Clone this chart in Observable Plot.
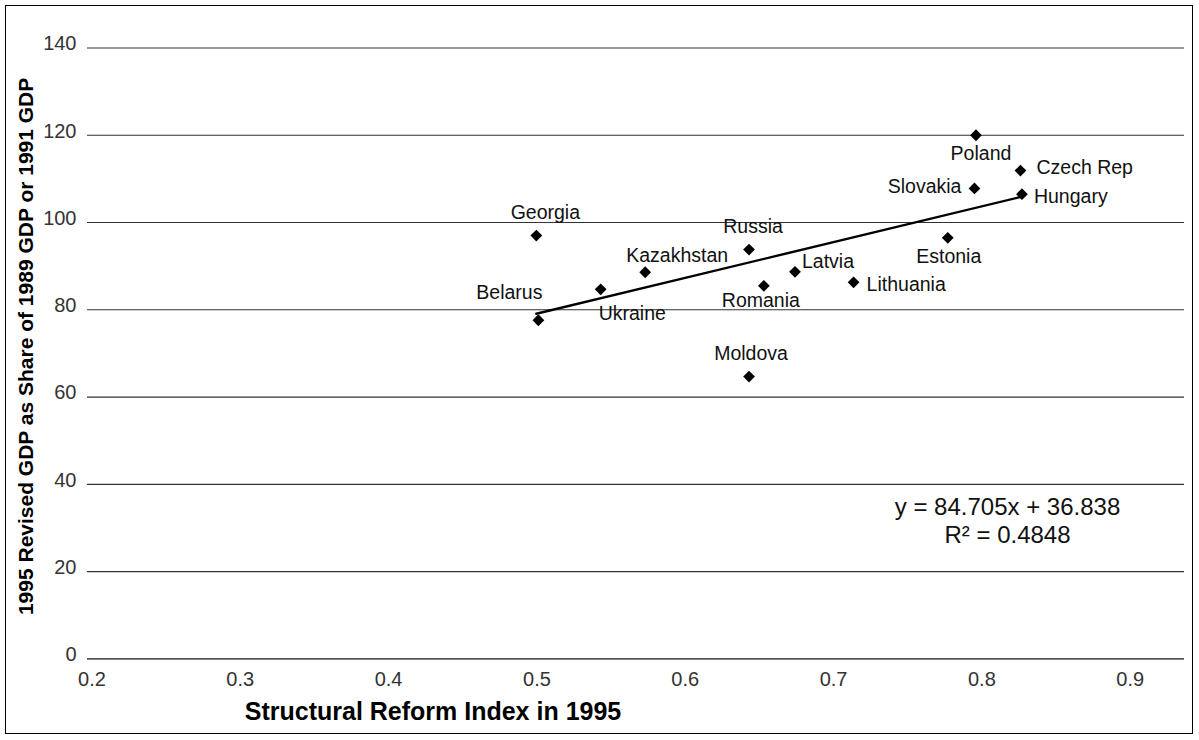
<!DOCTYPE html>
<html><head><meta charset="utf-8">
<script src="https://cdn.jsdelivr.net/npm/d3@7"></script>
<script src="https://cdn.jsdelivr.net/npm/@observablehq/plot@0.6"></script>
<style>
html,body{margin:0;padding:0;background:#fff;}
#wrap{position:relative;width:1199px;height:740px;overflow:hidden;}
#border{position:absolute;left:5px;top:5px;width:1188px;height:729px;border:1px solid #000;box-sizing:border-box;pointer-events:none}
</style></head><body><div id="wrap"><div id="chart"></div><div id="border"></div></div>
<script>
const countries = ["Georgia","Belarus","Ukraine","Kazakhstan","Russia","Romania","Latvia","Lithuania","Moldova","Poland","Czech Rep","Slovakia","Hungary","Estonia"];
const reformIndex = [0.4996, 0.501, 0.543, 0.573, 0.643, 0.653, 0.674, 0.7135, 0.643, 0.796, 0.826, 0.795, 0.827, 0.777];
const gdpShare = [97.0, 77.6, 84.7, 88.6, 93.8, 85.5, 88.7, 86.3, 64.7, 120.0, 111.9, 107.8, 106.5, 96.5];
const yTicks = [0, 20, 40, 60, 80, 100, 120, 140];
const xTicks = [0.2, 0.3, 0.4, 0.5, 0.6, 0.7, 0.8, 0.9];
const xTitle = "Structural Reform Index in 1995";
const yTitle = "1995 Revised GDP as Share of 1989 GDP or 1991 GDP";
const equationLines = ["y = 84.705x + 36.838", "R\u00B2 = 0.4848"];

// label placement (style only)
const placement = {
  "Georgia":   {anchor: "middle", dx: 9,   dy: -23},
  "Belarus":   {anchor: "middle", dx: -29, dy: -27},
  "Ukraine":   {anchor: "start",  dx: -2,  dy: 24},
  "Kazakhstan":{anchor: "middle", dx: 32,  dy: -17},
  "Russia":    {anchor: "middle", dx: 4,   dy: -23},
  "Romania":   {anchor: "middle", dx: -3,  dy: 15},
  "Latvia":    {anchor: "start",  dx: 7,   dy: -10},
  "Lithuania": {anchor: "start",  dx: 13,  dy: 2},
  "Moldova":   {anchor: "middle", dx: 2,   dy: -23},
  "Poland":    {anchor: "middle", dx: 5,   dy: 18},
  "Czech Rep": {anchor: "start",  dx: 16,  dy: -3},
  "Slovakia":  {anchor: "end",    dx: -13, dy: -2},
  "Hungary":   {anchor: "start",  dx: 12,  dy: 3},
  "Estonia":   {anchor: "middle", dx: 1,   dy: 19}
};

const data = countries.map((c, i) => ({country: c, x: reformIndex[i], y: gdpShare[i]}));
const font = "'Liberation Sans', Arial, Helvetica, sans-serif";

const labelMarks = data.map(d => {
  const p = placement[d.country];
  return Plot.text([d], {x: "x", y: "y", text: "country", textAnchor: p.anchor, lineAnchor: "middle",
    dx: p.dx, dy: p.dy, fontSize: 19.5, fill: "#111"});
});

const chart = Plot.plot({
  width: 1199,
  height: 740,
  marginLeft: 87,
  marginRight: 15,
  marginTop: 47.5,
  marginBottom: 81.7,
  style: {fontFamily: font, background: "#fff", color: "#222"},
  x: {domain: [0.197, 0.9366], ticks: xTicks},
  y: {domain: [0, 140], ticks: yTicks},
  marks: [
    Plot.ruleY(yTicks.filter(d => d > 0), {stroke: "#333", strokeWidth: 1.2}),
    Plot.ruleY([0], {stroke: "#555", strokeWidth: 1.8}),
    Plot.axisX(xTicks, {tickSize: 0, tickPadding: 13, fontSize: 20, fill: "#333", tickFormat: d => d.toFixed(1), label: null}),
    Plot.axisY(yTicks, {tickSize: 0, tickPadding: 11, fontSize: 20, fill: "#333", dy: -4, label: null}),
    Plot.linearRegressionY(data, {x: "x", y: "y", ci: 0, stroke: "#000", strokeWidth: 2.4}),
    Plot.dot(data, {x: "x", y: "y", symbol: "diamond2", r: 5.3, fill: "#000"}),
    ...labelMarks,
    Plot.text([equationLines.join("\n")], {frameAnchor: "bottom-right", dx: -177, dy: -139, textAnchor: "middle",
      lineAnchor: "middle", fontSize: 24, lineHeight: 1.17, fill: "#111"}),
    Plot.text([xTitle], {frameAnchor: "bottom", dx: -203, dy: 53, textAnchor: "middle", lineAnchor: "middle",
      fontSize: 25, fontWeight: "bold", fill: "#000"}),
    Plot.text([yTitle], {frameAnchor: "left", rotate: -90, dx: -61, dy: -7, textAnchor: "middle", lineAnchor: "middle",
      fontSize: 21, fontWeight: "bold", fill: "#000"})
  ]
});
document.getElementById("chart").appendChild(chart);
</script>
</body></html>
